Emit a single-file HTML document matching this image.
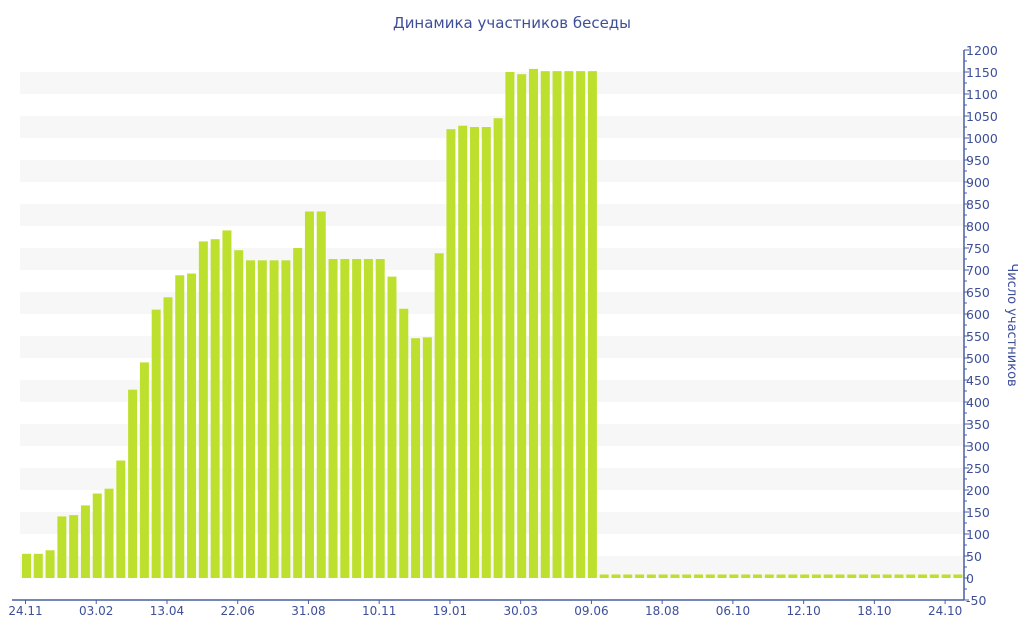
<!DOCTYPE html>
<html><head><meta charset="utf-8">
<style>
html,body{margin:0;padding:0;background:#fff;width:1024px;height:640px;overflow:hidden}
svg text{font-family:"DejaVu Sans","Liberation Sans",sans-serif;fill:#3e4f99}
</style></head>
<body>
<svg id="chart" width="1024" height="640" xmlns="http://www.w3.org/2000/svg">
<text x="512" y="28" text-anchor="middle" font-size="15">Динамика участников беседы</text>
<g id="bands"></g><g id="bars"></g><g id="axes"></g>
<text transform="translate(1008,325) rotate(90)" text-anchor="middle" font-size="13">Число участников</text>
</svg>
<script>
const values=[55,55,63,140,143,165,192,203,267,428,490,610,638,688,692,765,770,790,745,722,722,722,722,750,833,833,725,725,725,725,725,685,612,545,547,738,1020,1028,1025,1025,1045,1150,1145,1157,1152,1152,1152,1152,1152,8,8,8,8,8,8,8,8,8,8,8,8,8,8,8,8,8,8,8,8,8,8,8,8,8,8,8,8,8,8,8];
const xLabels=["24.11","03.02","13.04","22.06","31.08","10.11","19.01","30.03","09.06","18.08","06.10","12.10","18.10","24.10"];
const yMin=-50,yMax=1200,yStep=50;
const NS="http://www.w3.org/2000/svg";
const L=20,R=964,T=50,B=600,n=values.length,bw=11.79;
const y=v=>B-(v-yMin)/(yMax-yMin)*(B-T);
const xc=i=>26.5+bw*i;
function mk(tag,attrs,parent){const e=document.createElementNS(NS,tag);for(const k in attrs)e.setAttribute(k,attrs[k]);document.getElementById(parent).appendChild(e);return e;}
for(let v=0;v<yMax;v+=100){
 const r=mk('rect',{x:L,y:y(v+50),width:R-L,height:y(v)-y(v+50),fill:'#f7f7f7'},'bands');
 
 
}
values.forEach((v,i)=>{
 const r=mk('rect',{x:xc(i)-4.5,y:y(v),width:9,height:y(0)-y(v),fill:'#bde02f'},'bars');
 
 
});
mk('line',{x1:R,y1:T,x2:R,y2:B,stroke:'#4a5ea0','stroke-width':1.5},'axes');
mk('line',{x1:L-8,y1:B,x2:R,y2:B,stroke:'#4a5ea0','stroke-width':1.5},'axes');
for(let v=yMin;v<=yMax;v+=25){
 const major=v%50===0;
 mk('line',{x1:R,y1:y(v),x2:R+(major?5:3),y2:y(v),stroke:'#4a5ea0'},'axes');
 if(major){const t=mk('text',{x:R+2,y:y(v)+5,'font-size':12.5},'axes');t.textContent=v;
 
 }
}
xLabels.forEach((s,k)=>{
 const x=xc(k*6)-1;
 mk('line',{x1:x,y1:B,x2:x,y2:B+4,stroke:'#4a5ea0'},'axes');
 const t=mk('text',{x:x,y:B+15,'font-size':12,'text-anchor':'middle'},'axes');t.textContent=s;
 
 
});
</script>
</body></html>
